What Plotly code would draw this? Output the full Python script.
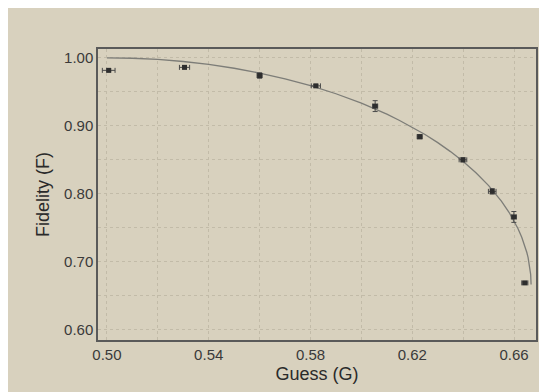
import plotly.graph_objects as go

guess = [0.5007, 0.5305, 0.5600, 0.5821, 0.6054, 0.6229, 0.6399, 0.6514, 0.6599, 0.6642]
fidelity = [0.9816, 0.9860, 0.9740, 0.9588, 0.9290, 0.8840, 0.8500, 0.8036, 0.7660, 0.6690]
guess_err = [0.0025, 0.0020, 0.0010, 0.0018, 0.0010, 0.0010, 0.0015, 0.0015, 0.0010, 0.0012]
fid_err = [0.002, 0.002, 0.004, 0.002, 0.008, 0.003, 0.003, 0.004, 0.008, 0.002]

# Theoretical curve points
curve_g = [0.500, 0.510, 0.520, 0.530, 0.540, 0.550, 0.560, 0.570, 0.580, 0.590,
           0.600, 0.605, 0.610, 0.615, 0.620, 0.625, 0.630, 0.635, 0.640, 0.645,
           0.650, 0.655, 0.658, 0.660, 0.6615, 0.663, 0.664, 0.665, 0.6655, 0.666, 0.6665, 0.66667]
curve_f = [1.0000, 0.9994, 0.9976, 0.9946, 0.9903, 0.9847, 0.9776, 0.9692, 0.9591, 0.9472,
           0.9333, 0.9255, 0.9171, 0.9079, 0.8980, 0.8872, 0.8753, 0.8621, 0.8475, 0.8310,
           0.8120, 0.7892, 0.7728, 0.7600, 0.7490, 0.7362, 0.7261, 0.7137, 0.7061, 0.6965, 0.6816, 0.6667]

x_ticks = [0.50, 0.54, 0.58, 0.62, 0.66]
y_ticks = [0.60, 0.70, 0.80, 0.90, 1.00]

BG = "#d8d1be"
fig = go.Figure()
fig.add_trace(go.Scatter(x=curve_g, y=curve_f, mode="lines",
                         line=dict(color="#7d7d78", width=1.3), hoverinfo="skip"))
fig.add_trace(go.Scatter(
    x=guess, y=fidelity, mode="markers",
    marker=dict(symbol="square", size=5, color="#2e2e2e"),
    error_x=dict(type="data", array=guess_err, color="#4a4a4a", thickness=1, width=2.5),
    error_y=dict(type="data", array=fid_err, color="#4a4a4a", thickness=1, width=2.5),
))

grid = dict(showgrid=True, gridcolor="#c2bba8", griddash="dot", gridwidth=1)
fig.update_layout(
    width=547, height=392,
    paper_bgcolor=BG, plot_bgcolor=BG,
    margin=dict(l=90, r=19, t=41, b=60),
    showlegend=False,
    font=dict(family="Liberation Sans, Arial, sans-serif", color="#3a3a3a", size=15),
)
fig.update_xaxes(
    range=[0.4965, 0.6686], tickvals=x_ticks, tickformat=".2f",
    title=dict(text="Guess (G)", font=dict(size=18, color="#2a2a2a"), standoff=6),
    showline=True, linecolor="#5a5a5a", linewidth=1.5, mirror=True,
    ticks="", zeroline=False,
    minor=dict(dtick=0.02, tick0=0.5, **grid), **grid,
)
fig.update_yaxes(
    range=[0.585, 1.013], tickvals=y_ticks, tickformat=".2f",
    title=dict(text="Fidelity (F)", font=dict(size=18, color="#2a2a2a"), standoff=10),
    showline=True, linecolor="#5a5a5a", linewidth=1.5, mirror=True,
    ticks="", zeroline=False,
    minor=dict(dtick=0.05, tick0=0.6, **grid), **grid,
)
fig.write_html("out.html")
